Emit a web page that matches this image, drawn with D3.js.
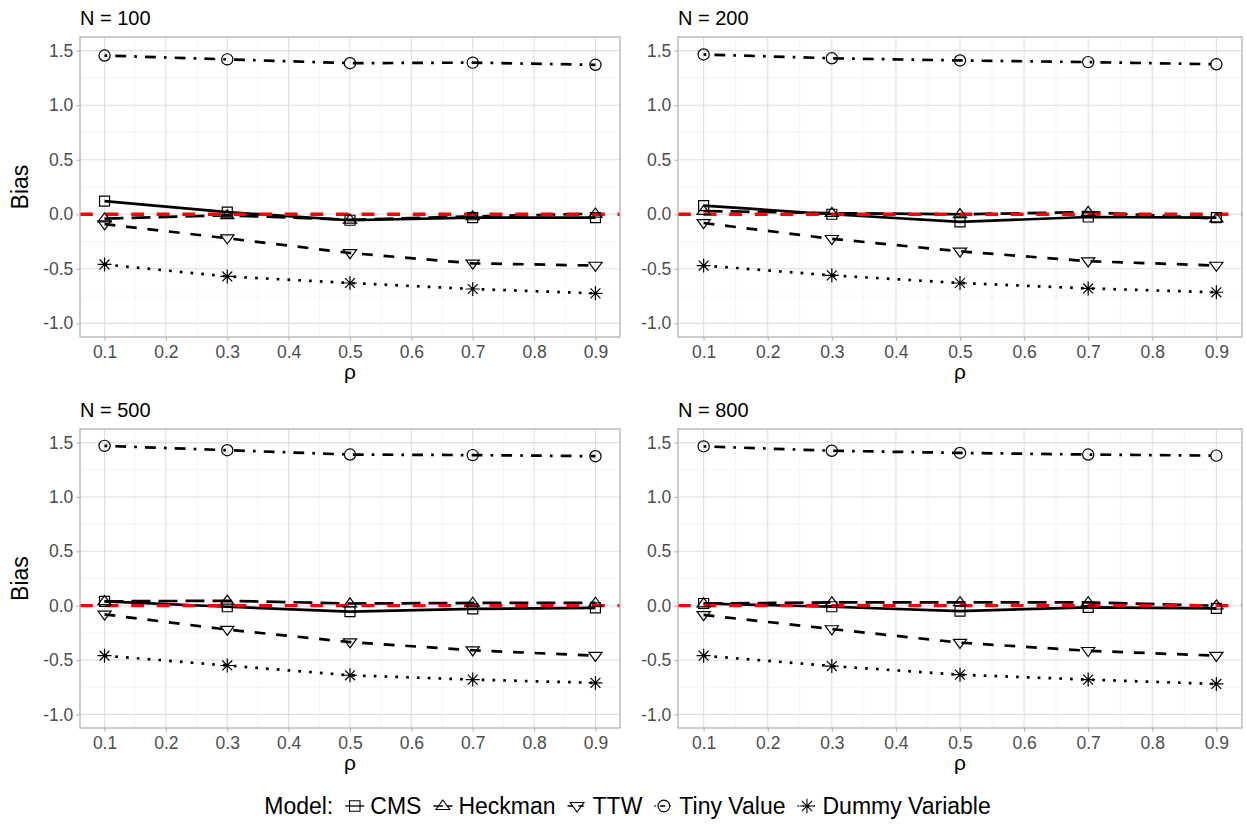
<!DOCTYPE html>
<html>
<head>
<meta charset="utf-8">
<script src="https://cdn.jsdelivr.net/npm/d3@7"></script>
<style>
  body { margin: 0; background: #ffffff; }
  text { font-family: "Liberation Sans", Arial, Helvetica, sans-serif; }
</style>
</head>
<body>
<svg id="chart" width="1247" height="825"></svg>
<script>
// ---- data -------------------------------------------------------------
const rho = [0.1, 0.3, 0.5, 0.7, 0.9];
const panelTitles = ["N = 100", "N = 200", "N = 500", "N = 800"];
const modelNames = ["CMS", "Heckman", "TTW", "Tiny Value", "Dummy Variable"];

// bias by sample size (rows: N = 100, 200, 500, 800; columns follow rho)
const cmsBias = [
  [0.12, 0.02, -0.055, -0.03, -0.03],
  [0.08, 0.00, -0.07, -0.025, -0.03],
  [0.04, -0.01, -0.055, -0.03, -0.02],
  [0.02, -0.01, -0.05, -0.015, -0.025]
];
const heckmanBias = [
  [-0.04, -0.01, -0.05, -0.02, 0.005],
  [0.03, 0.01, 0.00, 0.02, -0.04],
  [0.04, 0.045, 0.02, 0.025, 0.025],
  [0.02, 0.03, 0.03, 0.03, 0.00]
];
const ttwBias = [
  [-0.09, -0.22, -0.355, -0.45, -0.47],
  [-0.08, -0.225, -0.34, -0.43, -0.47],
  [-0.08, -0.22, -0.335, -0.41, -0.46],
  [-0.085, -0.215, -0.34, -0.415, -0.46]
];
const tinyValueBias = [
  [1.455, 1.42, 1.385, 1.39, 1.37],
  [1.465, 1.43, 1.41, 1.395, 1.375],
  [1.47, 1.43, 1.39, 1.385, 1.375],
  [1.465, 1.425, 1.405, 1.39, 1.38]
];
const dummyBias = [
  [-0.46, -0.57, -0.63, -0.685, -0.725],
  [-0.47, -0.56, -0.63, -0.68, -0.715],
  [-0.46, -0.55, -0.64, -0.68, -0.71],
  [-0.46, -0.555, -0.635, -0.68, -0.72]
];
const referenceBias = 0;

const xTickValues = [0.1, 0.2, 0.3, 0.4, 0.5, 0.6, 0.7, 0.8, 0.9];
const xMinorValues = [0.15, 0.25, 0.35, 0.45, 0.55, 0.65, 0.75, 0.85];
const yTickValues = [-1.0, -0.5, 0.0, 0.5, 1.0, 1.5];
const yMinorValues = [-0.75, -0.25, 0.25, 0.75, 1.25];

// ---- styling ----------------------------------------------------------
const seriesData = [cmsBias, heckmanBias, ttwBias, tinyValueBias, dummyBias];
const u = 2.7; // dash unit
const dashes = [null, [7 * u, 3 * u], [4 * u, 4 * u], [u, 3 * u, 4 * u, 3 * u], [u, 3 * u]];
const shapes = ["square", "triangle", "invtriangle", "circle", "asterisk"];

const frames = [
  { x0: 80, x1: 620, y0: 37, y1: 337, yTitle: true },
  { x0: 678, x1: 1242, y0: 37, y1: 337, yTitle: false },
  { x0: 80, x1: 620, y0: 429, y1: 728, yTitle: true },
  { x0: 678, x1: 1242, y0: 429, y1: 728, yTitle: false }
];

const svg = d3.select("#chart");
svg.append("rect").attr("width", 1247).attr("height", 825).attr("fill", "#ffffff");

function shapePath(kind, cx, cy, s = 1) {
  const p = d3.path();
  if (kind === "square") {
    const h = 5 * s;
    p.rect(cx - h, cy - h, 2 * h, 2 * h);
  } else if (kind === "triangle") {
    const xc = 6.6 * s;
    p.moveTo(cx, cy - 0.866 * xc);
    p.lineTo(cx + xc, cy + 0.5 * xc);
    p.lineTo(cx - xc, cy + 0.5 * xc);
    p.closePath();
  } else if (kind === "invtriangle") {
    const xc = 6.6 * s;
    p.moveTo(cx, cy + 0.866 * xc);
    p.lineTo(cx + xc, cy - 0.5 * xc);
    p.lineTo(cx - xc, cy - 0.5 * xc);
    p.closePath();
  } else if (kind === "circle") {
    const r = 5.6 * s;
    p.moveTo(cx + r, cy);
    p.arc(cx, cy, r, 0, 2 * Math.PI);
  } else if (kind === "asterisk") {
    const r = 7 * s, d = r * Math.SQRT1_2;
    p.moveTo(cx - r, cy); p.lineTo(cx + r, cy);
    p.moveTo(cx, cy - r); p.lineTo(cx, cy + r);
    p.moveTo(cx - d, cy - d); p.lineTo(cx + d, cy + d);
    p.moveTo(cx - d, cy + d); p.lineTo(cx + d, cy - d);
  }
  return p.toString();
}

frames.forEach((f, pi) => {
  const g = svg.append("g");
  const x = d3.scaleLinear().domain([0.06, 0.94]).range([f.x0, f.x1]);
  const y = d3.scaleLinear().domain([-1.125, 1.625]).range([f.y1, f.y0]);

  // minor grid
  g.selectAll(".xminor").data(xMinorValues).join("line")
    .attr("x1", d => x(d)).attr("x2", d => x(d)).attr("y1", f.y0).attr("y2", f.y1)
    .attr("stroke", "#ededed").attr("stroke-width", 0.6);
  g.selectAll(".yminor").data(yMinorValues).join("line")
    .attr("y1", d => y(d)).attr("y2", d => y(d)).attr("x1", f.x0).attr("x2", f.x1)
    .attr("stroke", "#ededed").attr("stroke-width", 0.6);
  // major grid
  g.selectAll(".xmajor").data(xTickValues).join("line")
    .attr("x1", d => x(d)).attr("x2", d => x(d)).attr("y1", f.y0).attr("y2", f.y1)
    .attr("stroke", "#dedede").attr("stroke-width", 1.1);
  g.selectAll(".ymajor").data(yTickValues).join("line")
    .attr("y1", d => y(d)).attr("y2", d => y(d)).attr("x1", f.x0).attr("x2", f.x1)
    .attr("stroke", "#dedede").attr("stroke-width", 1.1);

  // axes
  const xAxis = d3.axisBottom(x).tickValues(xTickValues).tickFormat(d3.format(".1f"))
    .tickSize(3.7).tickPadding(3);
  const yAxis = d3.axisLeft(y).tickValues(yTickValues).tickFormat(d3.format(".1f"))
    .tickSize(3.7).tickPadding(3);
  const gx = g.append("g").attr("transform", `translate(0,${f.y1})`).call(xAxis);
  const gy = g.append("g").attr("transform", `translate(${f.x0},0)`).call(yAxis);
  [gx, gy].forEach(a => {
    a.select(".domain").remove();
    a.selectAll(".tick line").attr("stroke", "#b3b3b3").attr("stroke-width", 1.1);
    a.selectAll(".tick text").attr("fill", "#4d4d4d").style("font-size", "17.5px")
      .style("font-family", '"Liberation Sans", Arial, sans-serif');
  });
  gx.selectAll(".tick text").attr("dy", "0.8em");
  gy.selectAll(".tick text").text(d => d3.format(".1f")(d).replace("−", "-"));

  // data lines
  seriesData.forEach((arr, si) => {
    const pts = rho.map((r, i) => [x(r), y(arr[pi][i])]);
    g.append("path").attr("d", d3.line()(pts)).attr("fill", "none")
      .attr("stroke", "#000").attr("stroke-width", 2.7)
      .attr("stroke-dasharray", dashes[si] ? dashes[si].join(" ") : null);
  });

  // zero reference line
  g.append("line").attr("x1", f.x0).attr("x2", f.x1)
    .attr("y1", y(referenceBias)).attr("y2", y(referenceBias))
    .attr("stroke", "#ff0000").attr("stroke-width", 3.3)
    .attr("stroke-dasharray", "12.8 12.8");

  // points
  seriesData.forEach((arr, si) => {
    rho.forEach((r, i) => {
      g.append("path").attr("d", shapePath(shapes[si], x(r), y(arr[pi][i])))
        .attr("fill", "none").attr("stroke", "#000").attr("stroke-width", 1.2);
    });
  });

  // panel border
  g.append("rect").attr("x", f.x0).attr("y", f.y0)
    .attr("width", f.x1 - f.x0).attr("height", f.y1 - f.y0)
    .attr("fill", "none").attr("stroke", "#b3b3b3").attr("stroke-width", 1.3);

  // titles
  g.append("text").attr("x", f.x0).attr("y", f.y0 - 12).text(panelTitles[pi])
    .attr("fill", "#000").style("font-size", "20px");
  g.append("text").attr("x", (f.x0 + f.x1) / 2).attr("y", f.y1 + 42)
    .attr("text-anchor", "middle").text("ρ").attr("fill", "#000").style("font-size", "21px");
  if (f.yTitle) {
    g.append("text")
      .attr("transform", `translate(28,${(f.y0 + f.y1) / 2}) rotate(-90)`)
      .attr("text-anchor", "middle").text("Bias").attr("fill", "#000").style("font-size", "23px");
  }
});

// ---- legend -----------------------------------------------------------
const legend = svg.append("g");
const legY = 806;
const legFont = "23px";
const keyW = 19, gapKeyText = 6, gapItems = 12;
const title = legend.append("text").attr("y", legY).attr("dy", "0.35em")
  .text("Model:").style("font-size", legFont).attr("fill", "#000");
let cursor = title.node().getComputedTextLength() + gapItems;
modelNames.forEach((name, si) => {
  const kg = legend.append("g");
  const kx = cursor;
  kg.append("line").attr("x1", kx).attr("x2", kx + keyW).attr("y1", legY).attr("y2", legY)
    .attr("stroke", "#000").attr("stroke-width", 1.3)
    .attr("stroke-dasharray", dashes[si] ? dashes[si].map(v => v / 2).join(" ") : null);
  kg.append("path").attr("d", shapePath(shapes[si], kx + keyW / 2, legY, 1.05))
    .attr("fill", "none").attr("stroke", "#000").attr("stroke-width", 1.1);
  const t = legend.append("text").attr("x", kx + keyW + gapKeyText).attr("y", legY)
    .attr("dy", "0.35em").text(name).style("font-size", legFont).attr("fill", "#000");
  cursor = kx + keyW + gapKeyText + t.node().getComputedTextLength() + gapItems;
});
const totalW = cursor - gapItems;
legend.attr("transform", `translate(${(1247 - totalW) / 2 + 4},0)`);
</script>
</body>
</html>
